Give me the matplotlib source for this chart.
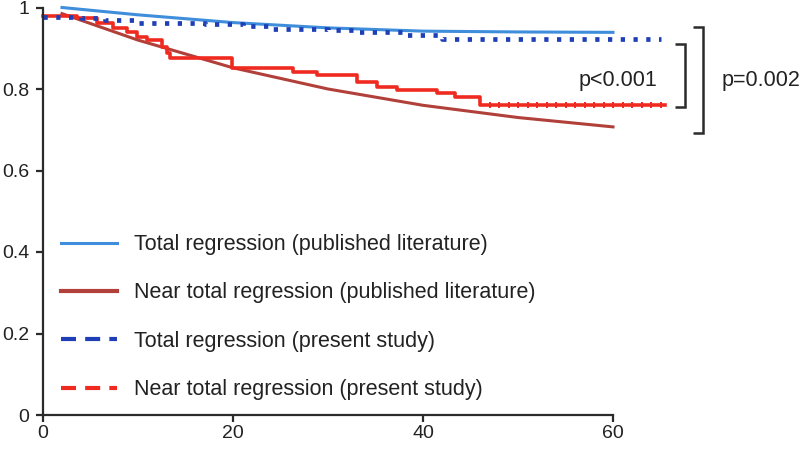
import matplotlib
matplotlib.use("Agg")
import matplotlib.pyplot as plt
from matplotlib.lines import Line2D

plt.rcParams['font.family'] = ['Liberation Sans', 'DejaVu Sans']

# Published literature curves (smooth)
pub_x = [2, 10, 20, 30, 40, 50, 60]
pub_total_y = [1.0, 0.982, 0.963, 0.950, 0.942, 0.940, 0.939]
pub_near_x = [2, 10, 20, 30, 40, 50, 60]
pub_near_y = [0.985, 0.920, 0.852, 0.800, 0.760, 0.730, 0.707]

# Present study Kaplan-Meier steps (time where step begins, survival value)
km_total_x = [0, 4, 6.5, 10, 17, 21, 24, 30, 33, 38, 42, 65]
km_total_y = [0.977, 0.974, 0.969, 0.962, 0.960, 0.955, 0.947, 0.945, 0.940, 0.933, 0.923, 0.923]
km_near_x = [0, 3.6, 5.7, 7.4, 8.8, 9.9, 10.9, 12.5, 13.1, 13.4, 19.9, 26.3, 28.8,
             33.0, 35.2, 37.3, 41.5, 43.4, 46.0, 65.5]
km_near_y = [0.978, 0.974, 0.962, 0.950, 0.940, 0.928, 0.920, 0.903, 0.888, 0.876,
             0.852, 0.842, 0.834, 0.818, 0.806, 0.798, 0.790, 0.780, 0.761, 0.761]
near_censor_x = [47, 48, 49, 50, 51, 52, 53, 54, 55, 56, 57, 58, 59, 60, 61, 62, 63, 64, 65]

labels = ["Total regression (published literature)",
          "Near total regression (published literature)",
          "Total regression (present study)",
          "Near total regression (present study)"]
x_ticks = [0, 20, 40, 60]
y_ticks = [0, 0.2, 0.4, 0.6, 0.8, 1.0]
y_ticklabels = ["0", "0.2", "0.4", "0.6", "0.8", "1"]

c_total_pub = '#3f8edb'
c_near_pub = '#b2403a'
c_total_km = '#1f3fb6'
c_near_km = '#ef2a20'
c_axis = '#2b2b2b'

fig = plt.figure(figsize=(8, 4.49), dpi=100)
ax = fig.add_axes([43/800, 34/449, 757/800, 407.5/449])
ax.set_xlim(0, 757/9.5)
ax.set_ylim(0, 1)

ax.plot(pub_x, pub_total_y, color=c_total_pub, lw=2.2, clip_on=False)
ax.plot(pub_near_x, pub_near_y, color=c_near_pub, lw=2.2, clip_on=False)
ax.step(km_near_x, km_near_y, where='post', color=c_near_km, lw=2.6, clip_on=False)
ax.plot(near_censor_x, [km_near_y[-1]] * len(near_censor_x), ls='none', marker='|',
        ms=5, mew=1.4, color=c_near_km, clip_on=False)
ax.step(km_total_x, km_total_y, where='post', color=c_total_km, lw=3.4,
        ls=(0, (0.9, 1.8)), clip_on=False)

# spines
for s in ['top', 'right']:
    ax.spines[s].set_visible(False)
for s in ['left', 'bottom']:
    ax.spines[s].set_color(c_axis)
    ax.spines[s].set_linewidth(1.6)
ax.spines['bottom'].set_bounds(0, 60)
ax.spines['left'].set_bounds(0, 1)
ax.set_xticks(x_ticks)
ax.set_xticklabels([str(t) for t in x_ticks])
ax.set_yticks(y_ticks)
ax.set_yticklabels(y_ticklabels)
ax.tick_params(axis='both', direction='out', length=5, width=1.6, color=c_axis,
               labelsize=14, labelcolor='#222222')
ax.tick_params(axis='x', pad=2.5)
ax.tick_params(axis='y', pad=5)

# legend
handles = [Line2D([], [], color=c_total_pub, lw=2.2),
           Line2D([], [], color=c_near_pub, lw=3.0),
           Line2D([], [], color=c_total_km, lw=3.0, ls=(0, (3.6, 2.2))),
           Line2D([], [], color=c_near_km, lw=3.0, ls=(0, (3.6, 2.2)))]
leg = ax.legend(handles, labels, loc='upper left', bbox_to_anchor=(0.012, 0.465),
                frameon=False, fontsize=15.5, handlelength=2.6, handletextpad=0.8,
                labelspacing=1.27, borderaxespad=0)
for t in leg.get_texts():
    t.set_color('#222222')

# significance brackets
def bracket(x, x_arm, y0, y1):
    ax.plot([x_arm, x, x, x_arm], [y1, y1, y0, y0], color=c_axis, lw=1.8,
            clip_on=False, solid_capstyle='butt', solid_joinstyle='miter')

bracket(67.6, 66.5, 0.756, 0.910)
bracket(69.5, 68.4, 0.692, 0.952)
ax.text(64.7, 0.820, "p<0.001", ha='right', va='center', fontsize=15.5, color='#222222')
ax.text(71.4, 0.820, "p=0.002", ha='left', va='center', fontsize=15.5, color='#222222')

fig.savefig("out.png", dpi=100)
